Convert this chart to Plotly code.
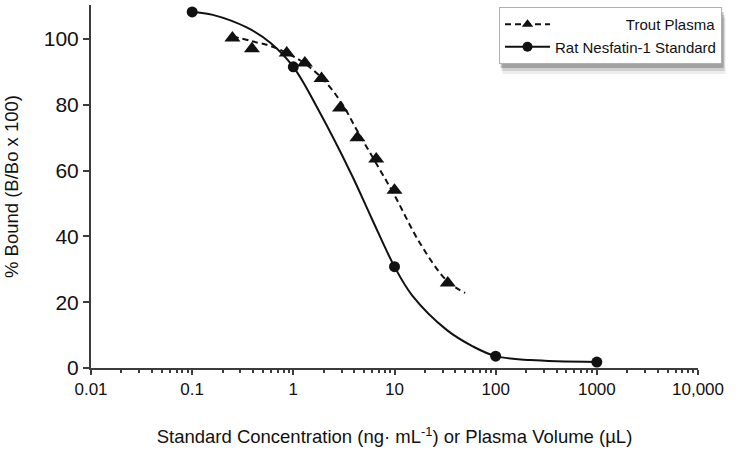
import plotly.graph_objects as go

trout_x = [0.25, 0.39, 0.86, 1.3, 1.9, 2.9, 4.3, 6.6, 10, 33.6]
trout_y = [100.3, 97, 95.7, 92.7, 88, 79, 70, 63.5, 54, 25.8]

rat_x = [0.1, 1, 10, 100, 1000]
rat_y = [108.2, 91.5, 30.8, 3.6, 1.8]

# fitted curves
trout_fit_x = [0.25, 0.4, 0.6, 0.85, 1.3, 2, 3, 4.3, 6.5, 10, 17.8, 33, 50]
trout_fit_y = [100.8, 99.2, 97.8, 95.8, 92.5, 87.5, 80.5, 72, 62.5, 52.5, 38, 26.5, 22.8]

rat_fit_x = [0.1, 0.16, 0.35, 0.6, 1, 1.8, 3.8, 6, 10, 15, 33, 60, 100, 220, 1000]
rat_fit_y = [108.2, 107.3, 103.4, 98.7, 91.5, 78, 58.5, 45.2, 30.8, 22, 11.5, 6.5, 3.6, 2.4, 1.8]

x_ticks = [0.01, 0.1, 1, 10, 100, 1000, 10000]
x_ticktext = ["0.01", "0.1", "1", "10", "100", "1000", "10,000"]
x_minor = [k * 10 ** e for e in range(-2, 4) for k in range(2, 10)]
y_ticks = [0, 20, 40, 60, 80, 100]

INK = "#111111"
AXIS = "#3c3c3c"
FONT = "Liberation Sans, Arial, sans-serif"

# plot area in pixels, used to place the legend and its shadow
L, R, T, B = 91, 698, 5, 368


def px(x, y):
    return (x - L) / (R - L), (B - y) / (B - T)


fig = go.Figure()

# curves
fig.add_trace(go.Scatter(
    x=trout_fit_x, y=trout_fit_y, mode="lines", line_shape="spline",
    line=dict(color=INK, width=2, dash="6px,4px"), showlegend=False, hoverinfo="skip",
))
fig.add_trace(go.Scatter(
    x=rat_fit_x, y=rat_fit_y, mode="lines", line_shape="spline",
    line=dict(color=INK, width=2), showlegend=False, hoverinfo="skip",
))

# data points
fig.add_trace(go.Scatter(
    x=trout_x, y=trout_y, mode="markers",
    marker=dict(symbol="triangle-up", size=14, color=INK), showlegend=False,
))
fig.add_trace(go.Scatter(
    x=rat_x, y=rat_y, mode="markers",
    marker=dict(symbol="circle", size=11, color=INK), showlegend=False,
))

# legend entries ("Trout Plasma" is right-aligned in the original)
fig.add_trace(go.Scatter(
    x=[None], y=[None], mode="lines+markers", name="\u00a0" * 17 + "Trout Plasma",
    line=dict(color=INK, width=2, dash="6px,4px"),
    marker=dict(symbol="triangle-up", size=10, color=INK),
))
fig.add_trace(go.Scatter(
    x=[None], y=[None], mode="lines+markers", name="Rat Nesfatin-1 Standard",
    line=dict(color=INK, width=2),
    marker=dict(symbol="circle", size=10, color=INK),
))

# soft drop shadow under the legend box
for off, alpha in [(11, 0.07), (8, 0.12), (5, 0.22)]:
    x0, y1 = px(499 + off / 3, 7 + off)
    x1, y0 = px(722 + off / 3, 63 + off)
    fig.add_shape(type="rect", xref="paper", yref="paper", x0=x0, x1=x1, y0=y0, y1=y1,
                  line_width=0, fillcolor=f"rgba(0,0,0,{alpha})", layer="above")

lx, ly = px(499, 7)
fig.update_layout(
    width=739, height=449,
    margin=dict(l=L, r=739 - R, t=T, b=449 - B),
    paper_bgcolor="white", plot_bgcolor="white",
    font=dict(family=FONT, color=INK),
    legend=dict(
        x=lx, y=ly, xanchor="left", yanchor="top",
        bgcolor="white", bordercolor="#b0b0b0", borderwidth=1,
        font=dict(size=15), tracegroupgap=0, itemwidth=45,
    ),
    xaxis=dict(
        type="log", range=[-2, 4],
        tickvals=x_ticks, ticktext=x_ticktext,
        ticks="outside", ticklen=5, tickwidth=2, tickcolor=AXIS,
        minor=dict(tickvals=x_minor, ticks="outside", ticklen=3, tickwidth=1.5, tickcolor=AXIS),
        showline=True, linecolor=AXIS, linewidth=2,
        showgrid=False, zeroline=False, automargin=False,
        tickfont=dict(size=17),
        title=dict(text="Standard Concentration (ng· mL<sup>-1</sup>) or Plasma Volume (µL)",
                   font=dict(size=18.5), standoff=32),
    ),
    yaxis=dict(
        range=[0, 110.3], tickvals=y_ticks,
        ticks="outside", ticklen=6, tickwidth=2, tickcolor=AXIS,
        showline=True, linecolor=AXIS, linewidth=2,
        showgrid=False, zeroline=False, automargin=False,
        tickfont=dict(size=21),
        title=dict(text="% Bound (B/Bo x 100)", font=dict(size=18.5), standoff=20),
    ),
)

fig.write_html("out.html", config={"displayModeBar": False},
               post_script="document.body.style.margin='0';")
